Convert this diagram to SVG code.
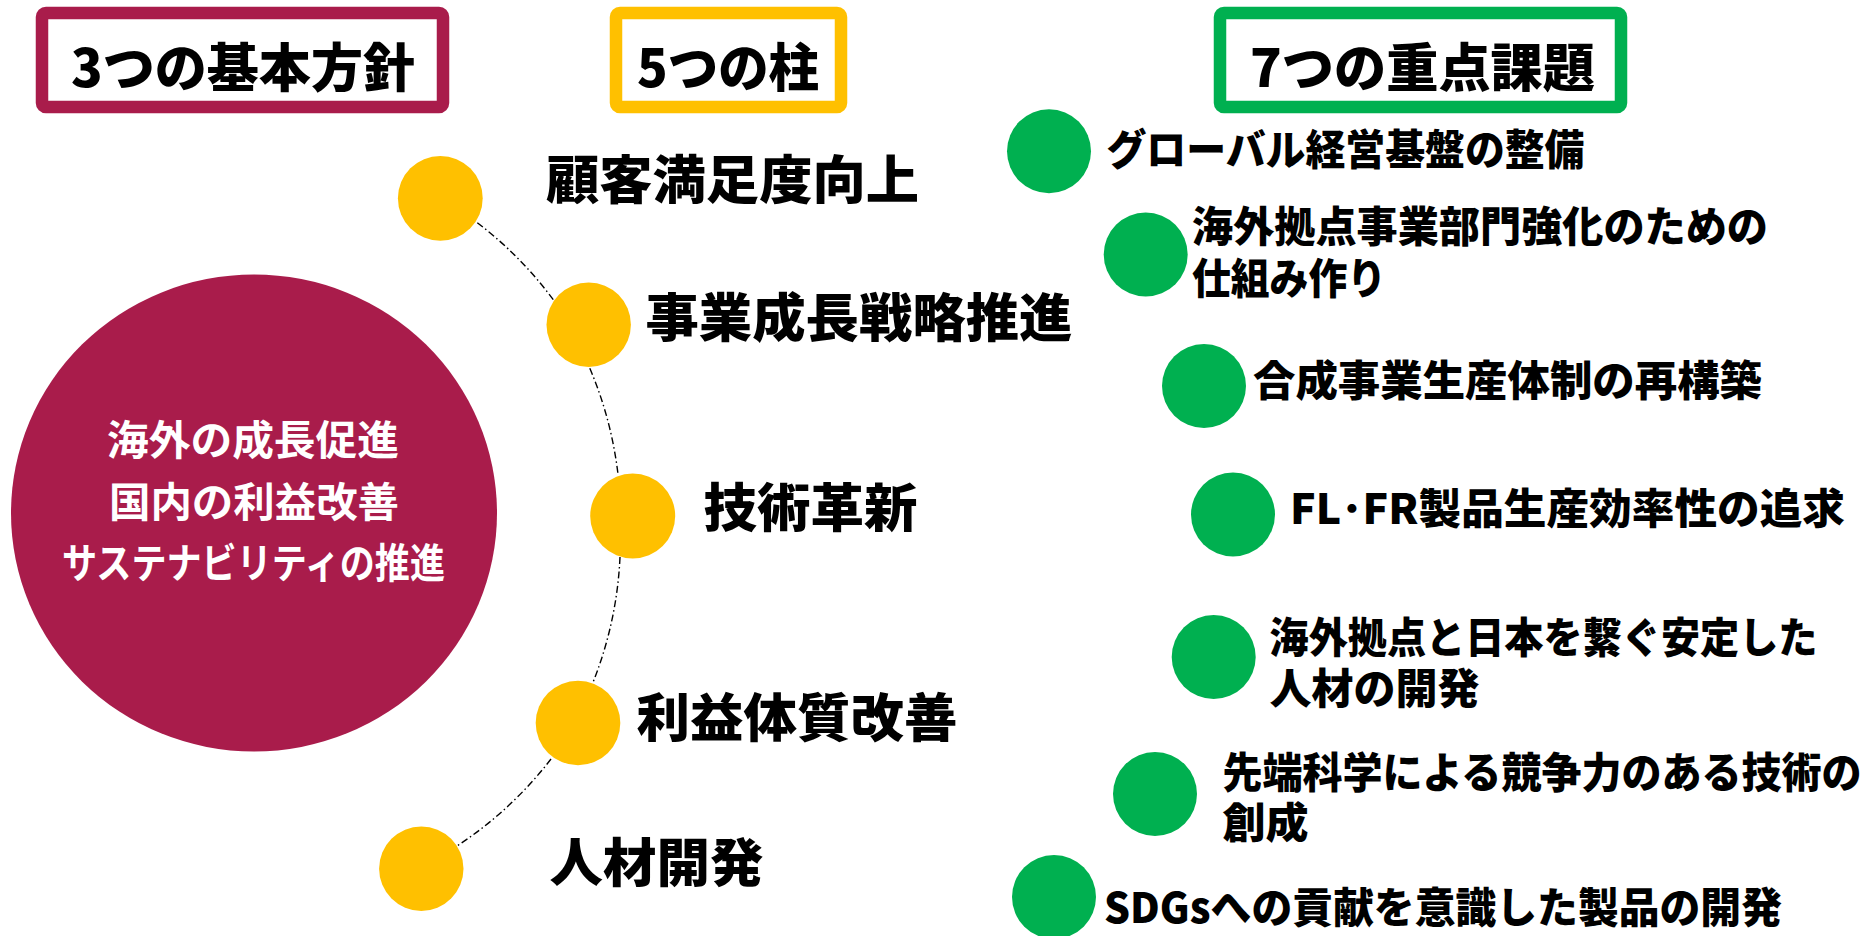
<svg xmlns="http://www.w3.org/2000/svg" width="1867" height="936" viewBox="0 0 1867 936">
<style>
.t{font-family:"Noto Sans CJK JP","Noto Sans CJK SC",sans-serif;font-weight:900;fill:#000}
.title{font-size:52px}
.pil{font-size:52px}
.iss{font-size:42px}
.ctr{font-size:41px;fill:#fff;font-weight:700}
.box{fill:#fff;stroke-width:12.5}
.yc{fill:#FFC000}
.gc{fill:#00B050}
.conn{fill:none;stroke:#000;stroke-width:1.4;stroke-dasharray:7 3 1.5 3}
</style>
<rect width="1867" height="936" fill="#fff"/>
<g id="title-kihon">
<rect class="box" x="42" y="13" width="401" height="94" rx="4" stroke="#A91C4B"/>
<text class="t title" x="71" y="87" textLength="344" lengthAdjust="spacingAndGlyphs">3つの基本方針</text>
</g>
<g id="title-hashira">
<rect class="box" x="616" y="13" width="225" height="94" rx="4" stroke="#FFC000"/>
<text class="t title" x="637" y="87" textLength="182" lengthAdjust="spacingAndGlyphs">5つの柱</text>
</g>
<g id="title-kadai">
<rect class="box" x="1220" y="13" width="401" height="94" rx="4" stroke="#00B050"/>
<text class="t title" x="1250" y="87" textLength="345" lengthAdjust="spacingAndGlyphs">7つの重点課題</text>
</g>
<g id="center">
<ellipse cx="254" cy="513" rx="243" ry="238.5" fill="#A91C4B"/>
<text class="t ctr" x="107" y="455" textLength="292" lengthAdjust="spacingAndGlyphs">海外の成長促進</text>
<text class="t ctr" x="109" y="517" textLength="290" lengthAdjust="spacingAndGlyphs">国内の利益改善</text>
<text class="t ctr" x="62" y="577.5" textLength="383" lengthAdjust="spacingAndGlyphs">サステナビリティの推進</text>
</g>
<g id="connectors">
<path class="conn" d="M477.3,222.7 A385,385 0 0,1 554,300.7"/>
<path class="conn" d="M589.8,368.3 A385,385 0 0,1 618,474.3"/>
<path class="conn" d="M620,557 A385,385 0 0,1 593,682.3"/>
<path class="conn" d="M551,759 A385,385 0 0,1 455.9,846.7"/>
</g>
<g id="pillar-1">
<circle class="yc" cx="440.3" cy="198.3" r="42.4"/>
<text class="t pil" x="546" y="198.5" textLength="373" lengthAdjust="spacingAndGlyphs">顧客満足度向上</text>
</g>
<g id="pillar-2">
<circle class="yc" cx="588.7" cy="324.7" r="42.2"/>
<text class="t pil" x="645.5" y="337" textLength="427" lengthAdjust="spacingAndGlyphs">事業成長戦略推進</text>
</g>
<g id="pillar-3">
<circle class="yc" cx="632.7" cy="516" r="42.5"/>
<text class="t pil" x="703.5" y="527" textLength="214" lengthAdjust="spacingAndGlyphs">技術革新</text>
</g>
<g id="pillar-4">
<circle class="yc" cx="578" cy="723" r="42.3"/>
<text class="t pil" x="636.5" y="737" textLength="321" lengthAdjust="spacingAndGlyphs">利益体質改善</text>
</g>
<g id="pillar-5">
<circle class="yc" cx="421.3" cy="868.7" r="42.2"/>
<text class="t pil" x="549.5" y="882" textLength="214" lengthAdjust="spacingAndGlyphs">人材開発</text>
</g>
<g id="issue-1">
<circle class="gc" cx="1049" cy="151.3" r="42"/>
<text class="t iss" x="1106.5" y="165" textLength="478" lengthAdjust="spacingAndGlyphs">グローバル経営基盤の整備</text>
</g>
<g id="issue-2">
<circle class="gc" cx="1145.7" cy="254.5" r="42"/>
<text class="t iss"><tspan x="1192" y="241.5" textLength="576" lengthAdjust="spacingAndGlyphs">海外拠点事業部門強化のための</tspan><tspan x="1192" y="294" textLength="194" lengthAdjust="spacingAndGlyphs">仕組み作り</tspan></text>
</g>
<g id="issue-3">
<circle class="gc" cx="1204" cy="386" r="42"/>
<text class="t iss" x="1253" y="396" textLength="509" lengthAdjust="spacingAndGlyphs">合成事業生産体制の再構築</text>
</g>
<g id="issue-4">
<circle class="gc" cx="1233" cy="514.5" r="42"/>
<text class="t iss" x="1290" y="524" textLength="555" lengthAdjust="spacingAndGlyphs">FL･FR製品生産効率性の追求</text>
</g>
<g id="issue-5">
<circle class="gc" cx="1213.7" cy="657" r="42"/>
<text class="t iss"><tspan x="1269.5" y="652.5" textLength="548" lengthAdjust="spacingAndGlyphs">海外拠点と日本を繋ぐ安定した</tspan><tspan x="1269.5" y="704" textLength="210" lengthAdjust="spacingAndGlyphs">人材の開発</tspan></text>
</g>
<g id="issue-6">
<circle class="gc" cx="1155" cy="794" r="42"/>
<text class="t iss"><tspan x="1222.5" y="787.5" textLength="639" lengthAdjust="spacingAndGlyphs">先端科学による競争力のある技術の</tspan><tspan x="1222.5" y="838" textLength="86" lengthAdjust="spacingAndGlyphs">創成</tspan></text>
</g>
<g id="issue-7">
<circle class="gc" cx="1054" cy="897" r="42"/>
<text class="t iss" x="1104" y="922.5" textLength="678" lengthAdjust="spacingAndGlyphs">SDGsへの貢献を意識した製品の開発</text>
</g>
</svg>
